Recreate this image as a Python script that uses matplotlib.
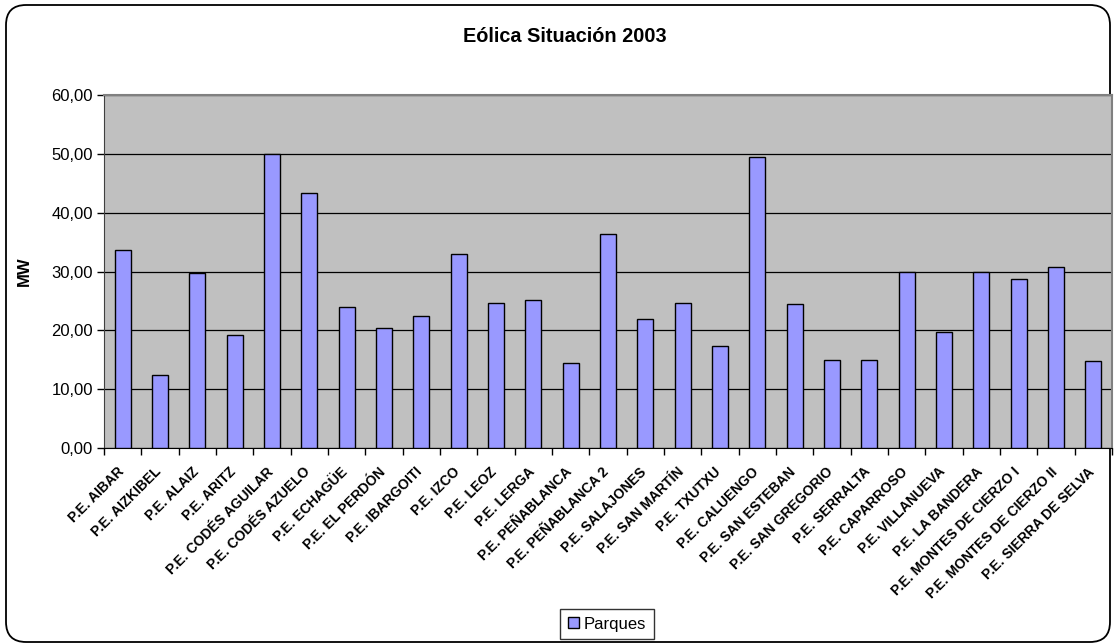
import matplotlib
matplotlib.use("Agg")
import matplotlib.pyplot as plt
import matplotlib.transforms as mtransforms
from matplotlib.patches import FancyBboxPatch
import numpy as np

plt.rcParams['font.family'] = ['Liberation Sans', 'DejaVu Sans']

parques = ["P.E. AIBAR", "P.E. AIZKIBEL", "P.E. ALAIZ", "P.E. ARITZ",
           "P.E. CODÉS AGUILAR", "P.E. CODÉS AZUELO", "P.E. ECHAGÜE",
           "P.E. EL PERDÓN", "P.E. IBARGOITI", "P.E. IZCO", "P.E. LEOZ",
           "P.E. LERGA", "P.E. PEÑABLANCA", "P.E. PEÑABLANCA 2",
           "P.E. SALAJONES", "P.E. SAN MARTÍN", "P.E. TXUTXU",
           "P.E. CALUENGO", "P.E. SAN ESTEBAN", "P.E. SAN GREGORIO",
           "P.E. SERRALTA", "P.E. CAPARROSO", "P.E. VILLANUEVA",
           "P.E. LA BANDERA", "P.E. MONTES DE CIERZO I",
           "P.E. MONTES DE CIERZO II", "P.E. SIERRA DE SELVA"]
mw = [33.7, 12.4, 29.8, 19.2, 50.0, 43.3, 24.0, 20.4, 22.5, 33.0, 24.7,
      25.1, 14.5, 36.4, 21.9, 24.7, 17.4, 49.5, 24.4, 15.0, 15.0, 30.0,
      19.7, 30.0, 28.8, 30.8, 14.8]
yticks = [0, 10, 20, 30, 40, 50, 60]

W, H = 1115, 644
fig = plt.figure(figsize=(W / 100, H / 100), dpi=100)

# rounded chart frame, drawn behind everything
frame = FancyBboxPatch((6 / W, 2 / H), 1104 / W, 637 / H,
                       boxstyle="round,pad=0,rounding_size=0.018",
                       transform=fig.transFigure, facecolor="none",
                       edgecolor="black", linewidth=1.3, zorder=-5,
                       mutation_aspect=W / H)
fig.patches.append(frame)

ax = fig.add_axes([104 / W, 1 - 448 / H, (1112 - 104) / W, (448 - 95) / H])
ax.set_zorder(2)
ax.set_facecolor("#c0c0c0")

x = np.arange(len(parques))
ax.bar(x, mw, width=0.43, color="#9999ff", edgecolor="black",
       linewidth=1.0, label="Parques", zorder=3)

ax.set_xlim(-0.5, len(parques) - 0.5)
ax.set_ylim(0, 60)
ax.set_yticks(yticks)
ax.set_yticklabels([f"{v:.2f}".replace(".", ",") for v in yticks], fontsize=12)
ax.yaxis.grid(True, color="black", linewidth=0.9, zorder=1)
ax.set_axisbelow(True)
ax.tick_params(axis="y", direction="out", length=5, width=1, pad=3)

ax.set_xticks(x)
ax.set_xticklabels(parques, rotation=45, ha="right", rotation_mode="anchor",
                   fontsize=10, fontweight="bold")
ax.tick_params(axis="x", which="major", length=0, pad=12)
ax.set_xticks(np.arange(len(parques) + 1) - 0.5, minor=True)
ax.tick_params(axis="x", which="minor", direction="out", length=5, width=1)
shift = mtransforms.ScaledTranslation(-6 / 100, 0, fig.dpi_scale_trans)
for lbl in ax.get_xticklabels():
    lbl.set_transform(lbl.get_transform() + shift)

for side in ["top", "right"]:
    ax.spines[side].set_color("#808080")
    ax.spines[side].set_linewidth(1.5)
ax.spines["left"].set_color("#404040")
ax.spines["bottom"].set_color("black")

ax.set_ylabel("MW", fontsize=12, fontweight="bold", labelpad=14)
fig.text(565 / W, 1 - 37 / H, "Eólica Situación 2003", ha="center",
         va="center", fontsize=14.3, fontweight="bold")

leg = fig.legend(loc="center", bbox_to_anchor=(607 / W, 1 - 624 / H),
                 fontsize=12, frameon=True, fancybox=False, edgecolor="black",
                 handlelength=0.65, handleheight=0.65, handletextpad=0.3,
                 borderpad=0.45, borderaxespad=0)
leg.get_frame().set_linewidth(1.0)

fig.savefig("out.png", dpi=100)
